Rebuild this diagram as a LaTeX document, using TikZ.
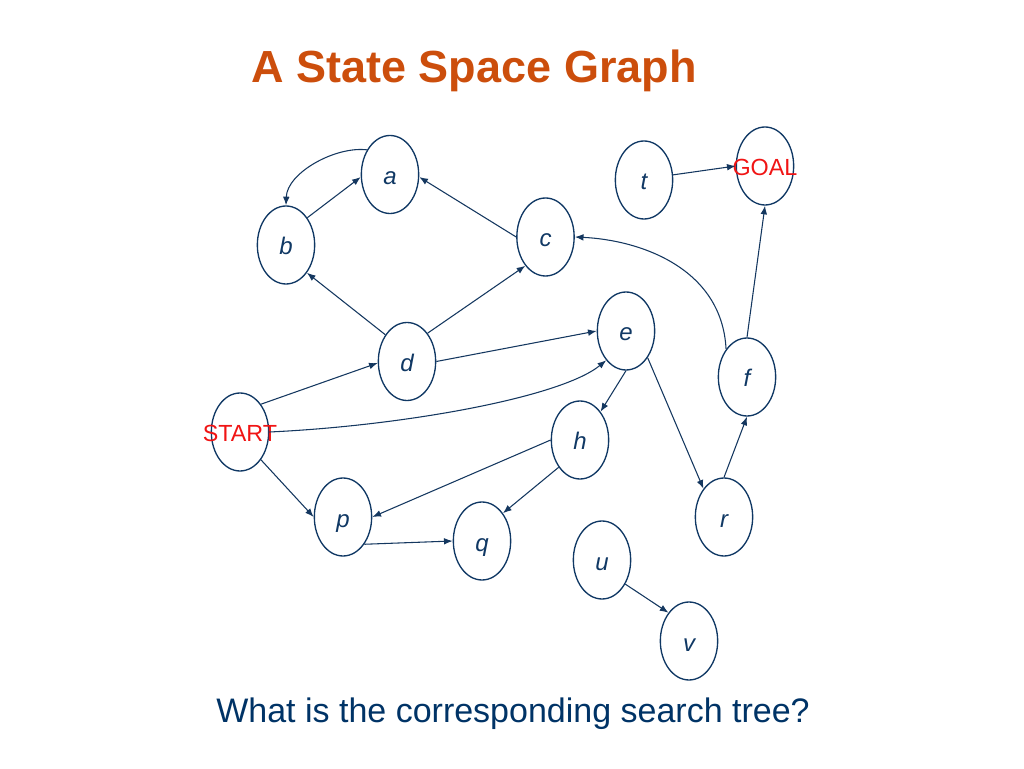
\documentclass[tikz,border=0pt]{standalone}
\usepackage{fontspec}
\setmainfont{Liberation Sans}
\usetikzlibrary{shapes.geometric,arrows.meta}
\definecolor{navy}{RGB}{16,56,100}
\definecolor{edgec}{RGB}{20,55,95}
\definecolor{titlec}{RGB}{204,78,12}
\definecolor{textc}{RGB}{0,51,102}
\definecolor{redc}{RGB}{240,20,20}
\tikzset{
  st/.style={ellipse,draw=navy,line width=1pt,minimum width=43pt,minimum height=58.5pt,inner sep=0pt,
    text height=15pt,text depth=0pt,
    font=\fontsize{18}{18}\selectfont\itshape,text=navy},
  special/.style={st,font=\fontsize{17.5}{17.5}\selectfont,text=redc},
  edge/.style={draw=edgec,line width=0.8pt,-{Latex[length=6.5pt,width=5pt]}},
}
\begin{document}
\begin{tikzpicture}[x=0.75pt,y=0.75pt]
\useasboundingbox (0,0) rectangle (1024,768);
\node[anchor=base,font=\fontsize{33.75}{34}\selectfont\bfseries,text=titlec] (title) at (474,685) {A State Space Graph};
\node[anchor=base,font=\fontsize{25.5}{26}\selectfont,text=textc] (question) at (513,46) {What is the corresponding search tree?};
\node[st] (a) at (390,593.5) {a};
\node[st] (b) at (286,523) {b};
\node[st] (c) at (545.5,531) {c};
\node[st] (d) at (407,406.5) {d};
\node[st] (e) at (626,437) {e};
\node[st] (t) at (644,588) {t};
\node[special] (goal) at (765,602) {\makebox[0pt][c]{GOAL}};
\node[st] (f) at (747,391) {f};
\node[special] (start) at (240,336) {\makebox[0pt][c]{START}};
\node[st] (p) at (343,251) {p};
\node[st] (q) at (482,227) {q};
\node[st] (h) at (580,328) {h};
\node[st] (r) at (724,251) {r};
\node[st] (u) at (602,208) {u};
\node[st] (v) at (689,127) {v};
% edges
\draw[edge] (a.133) .. controls (335,622) and (287,595) .. (b.90);
\draw[edge] (b.52) -- (a.185);
\draw[edge] (c.180) -- (a.355);
\draw[edge] (d.129) -- (b.307);
\draw[edge] (d.54) -- (c.235);
\draw[edge] (d.0) -- (e.180);
\draw[edge] (start.53) -- (d.183);
\draw[edge] (start.0) .. controls (400,342) and (560,370) .. (e.236);
\draw[edge] (start.307) -- (p.180);
\draw[edge] (e.270) -- (h.54);
\draw[edge] (e.309) -- (r.126);
\draw[edge] (h.180) -- (p.0);
\draw[edge] (h.232) -- (q.53);
\draw[edge] (p.308) -- (q.180);
\draw[edge] (r.90) -- (f.270);
\draw[edge] (f.90) -- (goal.270);
\draw[edge] (f.127) .. controls (722,500) and (640,528) .. (c.0);
\draw[edge] (t.10) -- (goal.180);
\draw[edge] (u.314) -- (v.126);
\end{tikzpicture}
\end{document}
